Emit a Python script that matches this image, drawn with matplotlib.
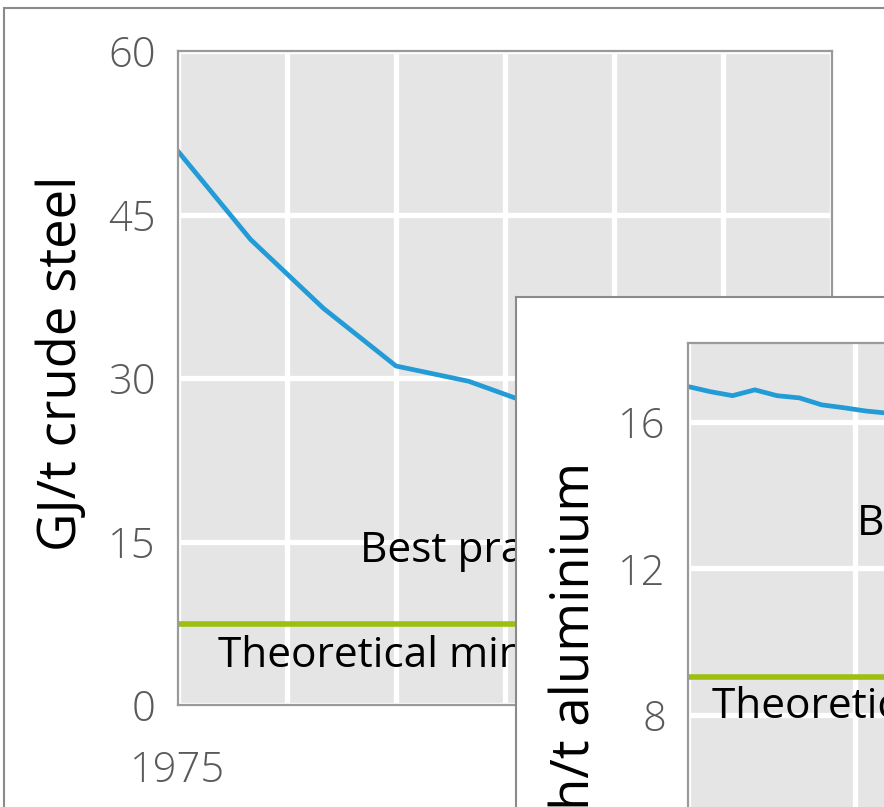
import matplotlib
matplotlib.use('Agg')
import matplotlib.pyplot as plt
from matplotlib import font_manager
from matplotlib.patches import Rectangle

plt.rcParams['font.family'] = ['Open Sans', 'DejaVu Sans']

# steel: energy intensity, GJ per tonne of crude steel
steel_years = [1975, 1979, 1983, 1987, 1991, 1995, 1999, 2003, 2007, 2011]
steel_values = [50.8, 42.7, 36.4, 31.1, 29.7, 27.3, 26.0, 24.6, 23.4, 22.5]
steel_theoretical_min = 7.4
steel_yticks = [0, 15, 30, 45, 60]
steel_xticks = [1975, 1981, 1987, 1993, 1999, 2005, 2011]
steel_xlabels = ['1975', '', '', '', '', '', '2011']

# aluminium: electricity intensity, MWh per tonne
alu_years = [1980, 1982, 1984, 1986, 1988, 1990, 1992, 1994, 1996, 1998, 2000]
alu_values = [16.97, 16.83, 16.72, 16.88, 16.72, 16.66, 16.47, 16.39, 16.30, 16.24, 16.2]
alu_theoretical_min = 9.04
alu_yticks = [4, 8, 12, 16]
alu_xticks = [1980, 1995, 2010, 2025]

BLUE = '#229bd6'
GREEN = '#9cbf10'
FACE = '#e5e5e5'
SPINE = '#9a9a9a'
TICK = '#5a5a5a'

# thin font for the tick numbers, if one is installed
tick_font = {'family': 'Open Sans', 'weight': 'normal'}
for fam in ['Open Sans', 'Lato', 'Roboto', 'Noto Sans']:
    path = font_manager.findfont(font_manager.FontProperties(family=fam, weight='light'),
                                 fallback_to_default=False)
    if 'light' in path.lower():
        tick_font = {'family': fam, 'weight': 'light'}
        break

W, H = 884, 807
fig = plt.figure(figsize=(W / 100, H / 100), dpi=100)


def px_axes(left, top, right, bottom):
    return fig.add_axes([left / W, 1 - bottom / H, (right - left) / W, (bottom - top) / H])


def style(ax):
    ax.set_facecolor(FACE)
    ax.set_axisbelow(True)
    ax.grid(True, color='white', lw=3.8)
    for s in ax.spines.values():
        s.set_color(SPINE)
        s.set_linewidth(1.6)
    ax.tick_params(length=0, colors=TICK, pad=16)
    for lab in ax.get_yticklabels() + ax.get_xticklabels():
        lab.set_fontfamily(tick_font['family'])
        lab.set_fontweight(tick_font['weight'])
        lab.set_fontsize(30)


# outer frame of the whole figure
fig.patches.append(Rectangle((4 / W, -0.2), 1.3, 1.2 - 8 / H, transform=fig.transFigure,
                             fill=False, ec='#8a8a8a', lw=1.5))

# main steel chart
ax = px_axes(178, 51, 832, 705)
ax.plot(steel_years, steel_values, color=BLUE, lw=3.4)
ax.axhline(steel_theoretical_min, color=GREEN, lw=4)
ax.set_xlim(1975, 2011)
ax.set_ylim(0, 60)
ax.set_yticks(steel_yticks)
ax.set_xticks(steel_xticks, steel_xlabels)
style(ax)
ax.tick_params(axis='x', pad=32)
fig.text(62 / W, 1 - 363 / H, 'GJ/t crude steel', fontsize=38, rotation=90,
         ha='center', va='center')
ax.text(1985.0, 13.1, 'Best practice', fontsize=30.5, va='baseline')
ax.text(1977.2, 3.5, 'Theoretical minimum', fontsize=30.5, va='baseline')

# white box behind the aluminium inset
box = px_axes(516, 297, 1100, 950)
box.set_zorder(2)
box.set_xticks([])
box.set_yticks([])
box.set_facecolor('white')
for s in box.spines.values():
    s.set_color('#8a8a8a')
    s.set_linewidth(1.5)

# aluminium inset
ins = px_axes(688, 343, 1200, 861)
ins.set_zorder(3)
ins.plot(alu_years, alu_values, color=BLUE, lw=3.4)
ins.axhline(alu_theoretical_min, color=GREEN, lw=4)
ins.set_xlim(1980, 2026)
ins.set_ylim(4, 18.16)
ins.set_yticks(alu_yticks)
ins.set_xticks(alu_xticks, [''] * len(alu_xticks))
style(ins)
ins.text(1995.2, 12.91, 'Best practice', fontsize=30.5, va='baseline')
ins.text(1982.2, 7.92, 'Theoretical minimum', fontsize=30.5, va='baseline')
fig.text(576 / W, 1 - 462 / H, 'MWh/t aluminium', fontsize=38, rotation=90,
         ha='center', va='top', zorder=4)

fig.savefig('out.png', dpi=100)
